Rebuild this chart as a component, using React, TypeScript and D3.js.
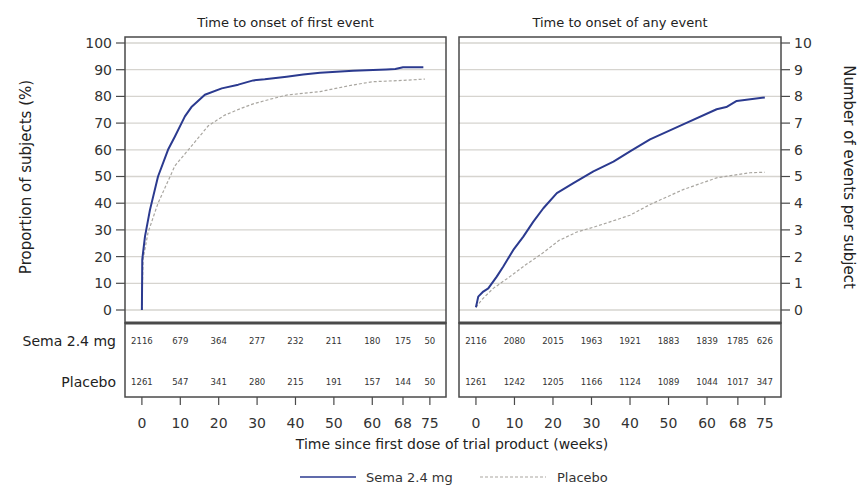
import * as React from "react"
import * as d3 from "d3"

// time to onset of first event (% of subjects)
const firstWeeks = [0, 0.1, 0.8, 2.1, 4.2, 6.8, 8.6, 11.2, 12.9, 16.4, 20.8, 25.1, 29, 32, 37.7, 42, 46.4, 55, 63.7, 66, 68, 73.3]
const firstSema = [0, 19, 27.5, 37.5, 50, 60, 65, 72.5, 76, 80.6, 83, 84.4, 86, 86.4, 87.4, 88.2, 88.9, 89.6, 90.1, 90.3, 90.9, 90.9]
const firstPlaceboWeeks = [0, 0.3, 1.6, 4.2, 8.6, 12.1, 17.3, 21.6, 26, 29, 33.3, 37.7, 46.4, 55, 60.2, 68, 73.7]
const firstPlacebo = [0, 19, 29, 40, 54, 60, 69, 73, 75.6, 77.2, 78.9, 80.5, 81.8, 84.3, 85.5, 86, 86.5]

// time to onset of any event (events per subject)
const anyWeeks = [0, 0.6, 1.9, 3.2, 5.4, 7.1, 9.7, 12.3, 14.9, 17.5, 21, 25.3, 30.5, 35.7, 40, 45.2, 53.8, 62.5, 65, 67.7, 75]
const anySema = [0.1, 0.5, 0.69, 0.81, 1.25, 1.63, 2.25, 2.75, 3.31, 3.81, 4.38, 4.75, 5.19, 5.56, 5.94, 6.39, 6.95, 7.52, 7.6, 7.83, 7.96]
const anyPlaceboWeeks = [0, 1.5, 2.3, 4.5, 8.8, 13, 17.5, 21.5, 26.2, 30.5, 34.8, 40, 45.2, 53.8, 62.5, 71.2, 75]
const anyPlacebo = [0.1, 0.38, 0.5, 0.81, 1.25, 1.7, 2.15, 2.6, 2.92, 3.1, 3.3, 3.55, 3.95, 4.51, 4.95, 5.14, 5.16]

const riskWeeks = [0, 10, 20, 30, 40, 50, 60, 68, 75]
const firstRiskSema = ["2116", "679", "364", "277", "232", "211", "180", "175", "50"]
const firstRiskPlacebo = ["1261", "547", "341", "280", "215", "191", "157", "144", "50"]
const anyRiskSema = ["2116", "2080", "2015", "1963", "1921", "1883", "1839", "1785", "626"]
const anyRiskPlacebo = ["1261", "1242", "1205", "1166", "1124", "1089", "1044", "1017", "347"]

const pctTicks = [0, 10, 20, 30, 40, 50, 60, 70, 80, 90, 100]
const eventTicks = [0, 1, 2, 3, 4, 5, 6, 7, 8, 9, 10]

const SEMA = "#2b3a8f"
const PLACEBO = "#a9a6a0"
const FRAME = "#4a4a4a"
const FONT = "DejaVu Sans, sans-serif"

const top = 37
const plotBottom = 323
const tableBottom = 397

interface PanelProps {
    left: number
    right: number
    title: string
    yMax: number
    ticks: number[]
    tickSide: "left" | "right"
    semaX: number[]
    semaY: number[]
    placeboX: number[]
    placeboY: number[]
    riskSema: string[]
    riskPlacebo: string[]
}

const Panel = (p: PanelProps): JSX.Element => {
    const x = d3.scaleLinear().domain([-4.4, 79.2]).range([p.left, p.right])
    const y = d3.scaleLinear().domain([0, p.yMax]).range([310, 43])
    const line = d3.line<[number, number]>()
        .x(d => x(d[0]))
        .y(d => y(d[1]))
        .curve(d3.curveLinear)
    const sema = p.semaX.map((w, i) => [w, p.semaY[i]] as [number, number])
    const placebo = p.placeboX.map((w, i) => [w, p.placeboY[i]] as [number, number])
    const tickX = p.tickSide === "left" ? p.left : p.right
    const dir = p.tickSide === "left" ? -1 : 1

    return (
        <g>
            <text x={(p.left + p.right) / 2} y={27} textAnchor="middle" fontSize={13} fill="#222">{p.title}</text>
            {/* gridlines */}
            {p.ticks.map(t => (
                <line key={"g" + t} x1={p.left} x2={p.right} y1={y(t)} y2={y(t)} stroke="#d6d4cf" strokeWidth={1.3} />
            ))}
            {/* y ticks */}
            {p.ticks.map(t => (
                <g key={"t" + t}>
                    <line x1={tickX} x2={tickX + dir * 9} y1={y(t)} y2={y(t)} stroke={FRAME} strokeWidth={1.2} />
                    <text x={tickX + dir * 13} y={y(t)} dy="0.35em" textAnchor={dir < 0 ? "end" : "start"}
                        fontSize={14} fill="#333">{t}</text>
                </g>
            ))}
            <path d={line(placebo) || ""} fill="none" stroke={PLACEBO} strokeWidth={1.2} strokeDasharray="3,2" />
            <path d={line(sema) || ""} fill="none" stroke={SEMA} strokeWidth={2} strokeLinejoin="round" />
            {/* frames */}
            <rect x={p.left} y={top} width={p.right - p.left} height={plotBottom - top} fill="none" stroke={FRAME} strokeWidth={1.5} />
            <rect x={p.left} y={plotBottom} width={p.right - p.left} height={tableBottom - plotBottom} fill="none" stroke={FRAME} strokeWidth={1.5} />
            <line x1={p.left} x2={p.right} y1={plotBottom} y2={plotBottom} stroke={FRAME} strokeWidth={3} />
            {/* risk table */}
            {riskWeeks.map((w, i) => (
                <g key={"r" + w}>
                    <text x={x(w)} y={341} dy="0.35em" textAnchor="middle" fontSize={8.5} fill="#333">{p.riskSema[i]}</text>
                    <text x={x(w)} y={382} dy="0.35em" textAnchor="middle" fontSize={8.5} fill="#333">{p.riskPlacebo[i]}</text>
                    <line x1={x(w)} x2={x(w)} y1={tableBottom} y2={tableBottom + 8} stroke={FRAME} strokeWidth={1.2} />
                    <text x={x(w)} y={423} dy="0.35em" textAnchor="middle" fontSize={14} fill="#333">{w}</text>
                </g>
            ))}
        </g>
    )
}

export default function App(): JSX.Element {
    return (
        <svg width={859} height={487} style={{ position: "absolute", left: 0, top: 0 }} fontFamily={FONT}>
            <rect width={859} height={487} fill="#fff" />
            <Panel left={125} right={446} title="Time to onset of first event" yMax={100} ticks={pctTicks}
                tickSide="left" semaX={firstWeeks} semaY={firstSema} placeboX={firstPlaceboWeeks} placeboY={firstPlacebo}
                riskSema={firstRiskSema} riskPlacebo={firstRiskPlacebo} />
            <Panel left={459} right={781} title="Time to onset of any event" yMax={10} ticks={eventTicks}
                tickSide="right" semaX={anyWeeks} semaY={anySema} placeboX={anyPlaceboWeeks} placeboY={anyPlacebo}
                riskSema={anyRiskSema} riskPlacebo={anyRiskPlacebo} />
            <text transform="translate(26,177) rotate(-90)" textAnchor="middle" dy="0.35em" fontSize={15} fill="#222">Proportion of subjects (%)</text>
            <text transform="translate(849,177) rotate(90)" textAnchor="middle" dy="0.35em" fontSize={15} fill="#222">Number of events per subject</text>
            <text x={116} y={341} dy="0.35em" textAnchor="end" fontSize={14} fill="#222">Sema 2.4 mg</text>
            <text x={116} y={382} dy="0.35em" textAnchor="end" fontSize={14} fill="#222">Placebo</text>
            <text x={452} y={444} dy="0.35em" textAnchor="middle" fontSize={14} fill="#222">Time since first dose of trial product (weeks)</text>
            {/* legend */}
            <line x1={300} x2={356} y1={477} y2={477} stroke={SEMA} strokeWidth={1.5} />
            <text x={366} y={477} dy="0.35em" fontSize={13} fill="#333">Sema 2.4 mg</text>
            <line x1={480} x2={546} y1={477} y2={477} stroke={PLACEBO} strokeWidth={1.2} strokeDasharray="3,2" />
            <text x={557} y={477} dy="0.35em" fontSize={13} fill="#333">Placebo</text>
        </svg>
    )
}
